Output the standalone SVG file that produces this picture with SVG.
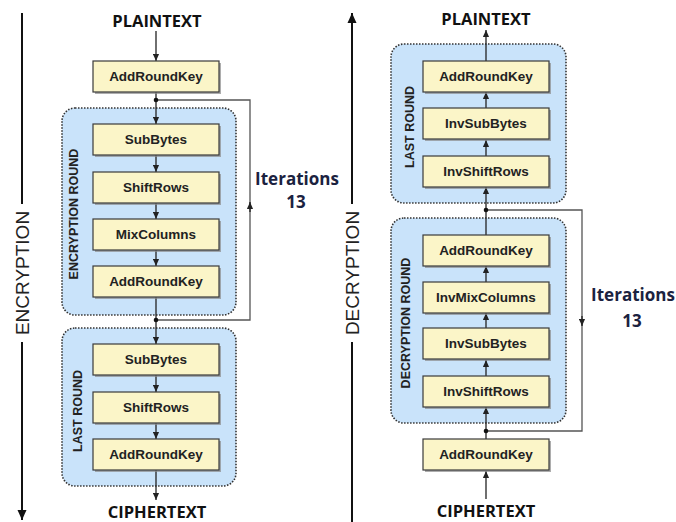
<svg xmlns="http://www.w3.org/2000/svg" width="676" height="522" viewBox="0 0 676 522">
<defs>
<style>
.panel{fill:#c9e3fa;stroke:#333;stroke-width:1.6;stroke-dasharray:1.5 1.5}
.box{fill:#fbf5c8;stroke:#3a3a3a;stroke-width:1.2}
.sh{fill:#8a8a8a;opacity:0.7}
.bt{font-family:"Liberation Sans",Arial,sans-serif;font-weight:bold;font-size:13.5px;fill:#222;text-anchor:middle}
.title{font-family:"Open Sans","Liberation Sans",sans-serif;font-weight:bold;font-size:16.5px;fill:#111;text-anchor:middle}
.iter{font-family:"Open Sans","Liberation Sans",sans-serif;font-weight:bold;font-size:17px;fill:#1b2240;text-anchor:middle}
.rl{font-family:"Liberation Sans",Arial,sans-serif;font-weight:bold;font-size:12.5px;fill:#222;text-anchor:middle}
.big{font-family:"Liberation Sans",Arial,sans-serif;font-size:19px;fill:#222;text-anchor:middle}
.ln{fill:none;stroke:#222;stroke-width:1.3}
.fb{fill:none;stroke:#555;stroke-width:1.3}
.axis{fill:none;stroke:#111;stroke-width:2}
</style>
<marker id="ah" viewBox="0 0 8 8" refX="8" refY="4" markerWidth="7" markerHeight="7" markerUnits="userSpaceOnUse" orient="auto">
<path d="M0,0.5 L8,4 L0,7.5 z" fill="#222"/>
</marker>
<marker id="ax" viewBox="0 0 10 10" refX="10" refY="5" markerWidth="10" markerHeight="10" markerUnits="userSpaceOnUse" orient="auto">
<path d="M0,0.5 L10,5 L0,9.5 z" fill="#111"/>
</marker>
</defs>
<rect width="676" height="522" fill="#fff"/>

<g id="enc-round">
<rect class="panel" x="62" y="108" width="174" height="207" rx="13"/>
<text class="rl" transform="translate(78,214) rotate(-90)">ENCRYPTION ROUND</text>
</g>
<g id="enc-last">
<rect class="panel" x="62" y="328" width="174" height="158" rx="13"/>
<text class="rl" transform="translate(82,411) rotate(-90)">LAST ROUND</text>
</g>
<g id="dec-last">
<rect class="panel" x="391" y="44" width="175" height="159" rx="13"/>
<text class="rl" transform="translate(414,127) rotate(-90)">LAST ROUND</text>
</g>
<g id="dec-round">
<rect class="panel" x="391" y="218" width="175" height="205" rx="13"/>
<text class="rl" transform="translate(410,323) rotate(-90)">DECRYPTION ROUND</text>
</g>

<g id="connectors">
<path class="axis" d="M22,13 V204"/>
<path class="axis" d="M22,342 V520" marker-end="url(#ax)"/>
<path class="axis" d="M352,522 V342"/>
<path class="axis" d="M352,204 V13" marker-end="url(#ax)"/>
<path class="ln" d="M156,31 V61" marker-end="url(#ah)"/>
<path class="ln" d="M156,92 V124" marker-end="url(#ah)"/>
<path class="ln" d="M156,155 V172" marker-end="url(#ah)"/>
<path class="ln" d="M156,203 V219" marker-end="url(#ah)"/>
<path class="ln" d="M156,250 V266" marker-end="url(#ah)"/>
<path class="ln" d="M156,297 V344" marker-end="url(#ah)"/>
<path class="ln" d="M156,375 V392" marker-end="url(#ah)"/>
<path class="ln" d="M156,423 V439" marker-end="url(#ah)"/>
<path class="ln" d="M156,470 V500" marker-end="url(#ah)"/>
<path class="fb" d="M156,320 H250 V100 H156"/>
<path class="ln" d="M250,212 V202" marker-end="url(#ah)"/>
<circle cx="156" cy="100" r="2.3" fill="#111"/>
<circle cx="156" cy="320" r="2.3" fill="#111"/>
<path class="ln" d="M486,499 V471" marker-end="url(#ah)"/>
<path class="ln" d="M486,439 V407" marker-end="url(#ah)"/>
<path class="ln" d="M486,376 V360" marker-end="url(#ah)"/>
<path class="ln" d="M486,328 V313" marker-end="url(#ah)"/>
<path class="ln" d="M486,282 V266" marker-end="url(#ah)"/>
<path class="ln" d="M486,235 V187" marker-end="url(#ah)"/>
<path class="ln" d="M486,156 V140" marker-end="url(#ah)"/>
<path class="ln" d="M486,108 V92" marker-end="url(#ah)"/>
<path class="ln" d="M486,61 V30" marker-end="url(#ah)"/>
<path class="fb" d="M486,210 H582 V431 H486"/>
<path class="ln" d="M582,316 V326" marker-end="url(#ah)"/>
<circle cx="486" cy="210" r="2.3" fill="#111"/>
<circle cx="486" cy="431" r="2.3" fill="#111"/>
</g>

<g id="labels">
<text class="big" transform="translate(29,273) rotate(-90)">ENCRYPTION</text>
<text class="big" transform="translate(359,273) rotate(-90)">DECRYPTION</text>
<text class="title" x="157" y="27">PLAINTEXT</text>
<text class="title" x="157" y="518">CIPHERTEXT</text>
<text class="title" x="486" y="25">PLAINTEXT</text>
<text class="title" x="486" y="517">CIPHERTEXT</text>
<text class="iter" x="297" y="185">Iterations</text>
<text class="iter" x="296" y="208">13</text>
<text class="iter" x="633" y="301">Iterations</text>
<text class="iter" x="632" y="327">13</text>
</g>

<g id="e-ark0"><rect class="sh" x="95" y="63" width="126" height="31"/><rect class="box" x="93" y="61" width="126" height="31"/><text class="bt" x="156" y="81">AddRoundKey</text></g>
<g id="e-sub1"><rect class="sh" x="95" y="126" width="126" height="31"/><rect class="box" x="93" y="124" width="126" height="31"/><text class="bt" x="156" y="144">SubBytes</text></g>
<g id="e-shift1"><rect class="sh" x="95" y="174" width="126" height="31"/><rect class="box" x="93" y="172" width="126" height="31"/><text class="bt" x="156" y="192">ShiftRows</text></g>
<g id="e-mix1"><rect class="sh" x="95" y="221" width="126" height="31"/><rect class="box" x="93" y="219" width="126" height="31"/><text class="bt" x="156" y="239">MixColumns</text></g>
<g id="e-ark1"><rect class="sh" x="95" y="268" width="126" height="31"/><rect class="box" x="93" y="266" width="126" height="31"/><text class="bt" x="156" y="286">AddRoundKey</text></g>
<g id="e-sub2"><rect class="sh" x="95" y="346" width="126" height="31"/><rect class="box" x="93" y="344" width="126" height="31"/><text class="bt" x="156" y="364">SubBytes</text></g>
<g id="e-shift2"><rect class="sh" x="95" y="394" width="126" height="31"/><rect class="box" x="93" y="392" width="126" height="31"/><text class="bt" x="156" y="412">ShiftRows</text></g>
<g id="e-ark2"><rect class="sh" x="95" y="441" width="126" height="31"/><rect class="box" x="93" y="439" width="126" height="31"/><text class="bt" x="156" y="459">AddRoundKey</text></g>

<g id="d-ark2"><rect class="sh" x="425" y="63" width="126" height="31"/><rect class="box" x="423" y="61" width="126" height="31"/><text class="bt" x="486" y="81">AddRoundKey</text></g>
<g id="d-isub2"><rect class="sh" x="425" y="110" width="126" height="31"/><rect class="box" x="423" y="108" width="126" height="31"/><text class="bt" x="486" y="128">InvSubBytes</text></g>
<g id="d-ishift2"><rect class="sh" x="425" y="158" width="126" height="31"/><rect class="box" x="423" y="156" width="126" height="31"/><text class="bt" x="486" y="176">InvShiftRows</text></g>
<g id="d-ark1"><rect class="sh" x="425" y="237" width="126" height="31"/><rect class="box" x="423" y="235" width="126" height="31"/><text class="bt" x="486" y="255">AddRoundKey</text></g>
<g id="d-imix1"><rect class="sh" x="425" y="284" width="126" height="31"/><rect class="box" x="423" y="282" width="126" height="31"/><text class="bt" x="486" y="302">InvMixColumns</text></g>
<g id="d-isub1"><rect class="sh" x="425" y="330" width="126" height="31"/><rect class="box" x="423" y="328" width="126" height="31"/><text class="bt" x="486" y="348">InvSubBytes</text></g>
<g id="d-ishift1"><rect class="sh" x="425" y="378" width="126" height="31"/><rect class="box" x="423" y="376" width="126" height="31"/><text class="bt" x="486" y="396">InvShiftRows</text></g>
<g id="d-ark0"><rect class="sh" x="425" y="441" width="126" height="31"/><rect class="box" x="423" y="439" width="126" height="31"/><text class="bt" x="486" y="459">AddRoundKey</text></g>
</svg>
